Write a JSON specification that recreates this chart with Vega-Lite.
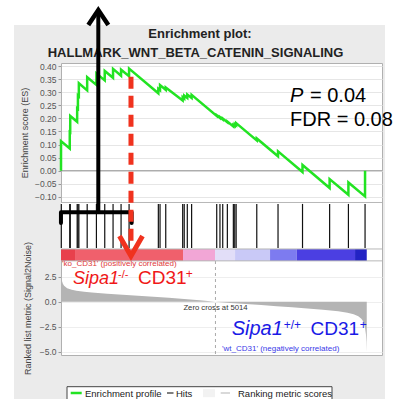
{
 "$schema": "https://vega.github.io/schema/vega-lite/v6.json",
 "width": 321, "height": 292,
 "autosize": {"type": "none"},
 "padding": {"left": 61, "top": 63, "right": 17, "bottom": 44},
 "background": "#ebebeb",
 "config": {"view": {"fill": "white", "stroke": "#b0b0b0"}, "font": "Liberation Sans"},
 "data": {"values": [{}]},
 "resolve": {"scale": {"y": "independent"}, "axis": {"y": "independent"}},
 "layer": [
  {"mark": {"type": "rect", "fill": "white"},
   "encoding": {"x": {"datum": -2300, "type": "quantitative", "scale": {"domain": [0, 10420], "nice": false, "zero": false}, "axis": null}, "x2": {"datum": 11300},
    "y": {"datum": 0.75, "type": "quantitative", "scale": {"domain": [-0.1196, 0.4115], "range": [139, 0], "nice": false, "zero": false}, "axis": null}, "y2": {"datum": 0.5567}}},
  {"mark": {"type": "rect", "fill": "white"},
   "encoding": {"x": {"datum": -2300, "type": "quantitative", "scale": {"domain": [0, 10420], "nice": false, "zero": false}, "axis": null}, "x2": {"datum": -1526},
    "y": {"datum": 0.75, "type": "quantitative", "scale": {"domain": [-0.1196, 0.4115], "range": [139, 0], "nice": false, "zero": false}, "axis": null}, "y2": {"datum": -0.95}}},
  {"mark": {"type": "rect", "fill": "white"},
   "encoding": {"x": {"datum": 10517, "type": "quantitative", "scale": {"domain": [0, 10420], "nice": false, "zero": false}, "axis": null}, "x2": {"datum": 11300},
    "y": {"datum": 0.75, "type": "quantitative", "scale": {"domain": [-0.1196, 0.4115], "range": [139, 0], "nice": false, "zero": false}, "axis": null}, "y2": {"datum": -0.95}}},
  {"mark": {"type": "rect", "fill": "white"},
   "encoding": {"x": {"datum": 0, "type": "quantitative", "scale": {"domain": [0, 10420], "nice": false, "zero": false}, "axis": null}, "x2": {"datum": 10420},
    "y": {"datum": -0.1234, "type": "quantitative", "scale": {"domain": [-0.1196, 0.4115], "range": [139, 0], "nice": false, "zero": false}, "axis": null}, "y2": {"datum": -0.345}}},
  {"mark": {"type": "rule", "color": "#9a9a9a", "strokeWidth": 1},
   "encoding": {"x": {"datum": 0, "type": "quantitative", "scale": {"domain": [0, 10420], "nice": false, "zero": false}, "axis": null}, "x2": {"datum": 10420},
    "y": {"datum": 0, "type": "quantitative", "scale": {"domain": [-0.1196, 0.4115], "range": [139, 0], "nice": false, "zero": false}, "axis": null}}},
  {"data": {"values": [
    {"r": 0, "es": 0}, {"r": 1, "es": 0.113}, {"r": 284, "es": 0.085}, {"r": 285, "es": 0.148}, {"r": 299, "es": 0.147}, {"r": 300, "es": 0.209},
    {"r": 524, "es": 0.187}, {"r": 525, "es": 0.238}, {"r": 549, "es": 0.236}, {"r": 550, "es": 0.287}, {"r": 579, "es": 0.284}, {"r": 580, "es": 0.334},
    {"r": 849, "es": 0.307}, {"r": 850, "es": 0.357}, {"r": 1149, "es": 0.328}, {"r": 1150, "es": 0.372}, {"r": 1419, "es": 0.345}, {"r": 1420, "es": 0.381},
    {"r": 1689, "es": 0.355}, {"r": 1690, "es": 0.389}, {"r": 1949, "es": 0.363}, {"r": 1950, "es": 0.386}, {"r": 2209, "es": 0.361}, {"r": 2210, "es": 0.39},
    {"r": 3159, "es": 0.296}, {"r": 3160, "es": 0.313}, {"r": 3214, "es": 0.308}, {"r": 3215, "es": 0.327}, {"r": 3399, "es": 0.309}, {"r": 3400, "es": 0.318},
    {"r": 3949, "es": 0.268}, {"r": 3950, "es": 0.281}, {"r": 3999, "es": 0.276}, {"r": 4000, "es": 0.287}, {"r": 4099, "es": 0.278}, {"r": 4100, "es": 0.291},
    {"r": 4239, "es": 0.278}, {"r": 4240, "es": 0.29}, {"r": 5054, "es": 0.209}, {"r": 5055, "es": 0.212}, {"r": 5159, "es": 0.202}, {"r": 5160, "es": 0.205},
    {"r": 5249, "es": 0.196}, {"r": 5250, "es": 0.199}, {"r": 5399, "es": 0.185}, {"r": 5400, "es": 0.188}, {"r": 5594, "es": 0.169}, {"r": 5595, "es": 0.175},
    {"r": 5639, "es": 0.171}, {"r": 5640, "es": 0.178}, {"r": 5684, "es": 0.174}, {"r": 5685, "es": 0.182}, {"r": 6354, "es": 0.116}, {"r": 6355, "es": 0.123},
    {"r": 7044, "es": 0.055}, {"r": 7045, "es": 0.074}, {"r": 7839, "es": -0.005}, {"r": 7840, "es": 0.022}, {"r": 8719, "es": -0.066}, {"r": 8720, "es": -0.032},
    {"r": 9329, "es": -0.092}, {"r": 9330, "es": -0.045}, {"r": 9869, "es": -0.098}, {"r": 9870, "es": 0.0}]},
   "mark": {"type": "line", "color": "#22e322", "strokeWidth": 2.5},
   "encoding": {"x": {"field": "r", "type": "quantitative", "scale": {"domain": [0, 10420], "nice": false, "zero": false}, "axis": null},
    "y": {"field": "es", "type": "quantitative", "scale": {"domain": [-0.1196, 0.4115], "range": [139, 0], "nice": false, "zero": false},
     "axis": {"orient": "left", "values": [-0.1, -0.05, 0, 0.05, 0.1, 0.15, 0.2, 0.25, 0.3, 0.35, 0.4], "format": ".2f", "grid": true, "gridColor": "#e6e6e6", "domain": false, "tickColor": "#999", "tickSize": 3, "labelFontSize": 8.5, "labelColor": "#555", "labelPadding": 2, "title": "Enrichment score (ES)", "titleFontSize": 9, "titleFontWeight": "normal", "titleColor": "#444", "titlePadding": 5}}}},
  {"data": {"values": [{"r": 10}, {"r": 285}, {"r": 300}, {"r": 525}, {"r": 550}, {"r": 580}, {"r": 850}, {"r": 1150}, {"r": 1420}, {"r": 1690}, {"r": 1950}, {"r": 2210}, {"r": 3160}, {"r": 3215}, {"r": 3400}, {"r": 3950}, {"r": 4000}, {"r": 4100}, {"r": 4240}, {"r": 5055}, {"r": 5160}, {"r": 5250}, {"r": 5400}, {"r": 5595}, {"r": 5640}, {"r": 5685}, {"r": 6355}, {"r": 7045}, {"r": 7840}, {"r": 8720}, {"r": 9330}, {"r": 9870}]},
   "mark": {"type": "rule", "color": "#111", "strokeWidth": 1.2},
   "encoding": {"x": {"field": "r", "type": "quantitative", "scale": {"domain": [0, 10420], "nice": false, "zero": false}, "axis": null},
    "y": {"datum": 0.02, "type": "quantitative", "scale": {"domain": [0, 1], "range": [186, 140], "nice": false, "zero": false}, "axis": null}, "y2": {"datum": 0.98}}},
  {"data": {"values": [{"s": 0, "e": 455, "g": "a"}, {"s": 455, "e": 3961, "g": "b"}, {"s": 3961, "e": 5000, "g": "c"}, {"s": 5000, "e": 5650, "g": "d"}, {"s": 5650, "e": 6786, "g": "e"}, {"s": 6786, "e": 7652, "g": "f"}, {"s": 7652, "e": 9545, "g": "g"}, {"s": 9545, "e": 9925, "g": "h"}]},
   "mark": {"type": "rect"},
   "encoding": {"x": {"field": "s", "type": "quantitative", "scale": {"domain": [0, 10420], "nice": false, "zero": false}, "axis": null}, "x2": {"field": "e"},
    "y": {"datum": 0, "type": "quantitative", "scale": {"domain": [0, 1], "range": [198, 186], "nice": false, "zero": false}, "axis": null}, "y2": {"datum": 1},
    "color": {"field": "g", "type": "nominal", "legend": null, "scale": {"domain": ["a", "b", "c", "d", "e", "f", "g", "h"], "range": ["#e8404c", "#f0606c", "#f2a6d6", "#e2def8", "#c9c9f7", "#7d7bf0", "#4b3fe2", "#2323c4"]}}}},
  {"data": {"values": [
    {"r": 0, "m": 3.3}, {"r": 10, "m": 2.6}, {"r": 30, "m": 2.1}, {"r": 60, "m": 1.8}, {"r": 100, "m": 1.6}, {"r": 200, "m": 1.35}, {"r": 350, "m": 1.2}, {"r": 500, "m": 1.1},
    {"r": 750, "m": 1.0}, {"r": 1000, "m": 0.92}, {"r": 1500, "m": 0.8}, {"r": 2000, "m": 0.7}, {"r": 2500, "m": 0.6}, {"r": 3000, "m": 0.5}, {"r": 3500, "m": 0.4},
    {"r": 4000, "m": 0.28}, {"r": 4500, "m": 0.15}, {"r": 5014, "m": 0}, {"r": 5500, "m": -0.12}, {"r": 6000, "m": -0.24}, {"r": 6500, "m": -0.34}, {"r": 7000, "m": -0.45},
    {"r": 7500, "m": -0.56}, {"r": 8000, "m": -0.68}, {"r": 8500, "m": -0.8}, {"r": 9000, "m": -0.95}, {"r": 9300, "m": -1.1}, {"r": 9500, "m": -1.25}, {"r": 9650, "m": -1.45},
    {"r": 9750, "m": -1.7}, {"r": 9820, "m": -2.0}, {"r": 9870, "m": -2.6}, {"r": 9900, "m": -3.3}, {"r": 9915, "m": -4.0}, {"r": 9925, "m": -5.0}]},
   "mark": {"type": "area", "color": "#b4b4b4"},
   "encoding": {"x": {"field": "r", "type": "quantitative", "scale": {"domain": [0, 10420], "nice": false, "zero": false},
     "axis": {"orient": "bottom", "values": [0, 1000, 2000, 3000, 4000, 5000, 6000, 7000, 8000, 9000, 10000], "format": ",", "grid": true, "gridColor": "#e6e6e6", "domain": false, "tickColor": "#999", "tickSize": 3, "labelFontSize": 8.5, "labelColor": "#555", "labelFlush": false, "title": "Rank in Ordered Dataset", "titleFontSize": 10, "titleFontWeight": "normal", "titleColor": "#333", "titlePadding": 2}},
    "y": {"field": "m", "type": "quantitative", "scale": {"domain": [-5.33, 4.07], "range": [292, 198], "nice": false, "zero": false},
     "axis": {"orient": "left", "values": [-5, -2.5, 0, 2.5], "format": ".1f", "grid": true, "gridColor": "#eeeeee", "domain": false, "tickColor": "#999", "tickSize": 3, "labelFontSize": 8.5, "labelColor": "#555", "labelPadding": 2, "title": "Ranked list metric (Signal2Noise)", "titleFontSize": 9, "titleFontWeight": "normal", "titleColor": "#444", "titlePadding": 7}},
    "y2": {"datum": 0}}},
  {"mark": {"type": "rule", "color": "#aaaaaa", "strokeWidth": 1, "strokeDash": [3, 3]},
   "encoding": {"x": {"datum": 5014, "type": "quantitative", "scale": {"domain": [0, 10420], "nice": false, "zero": false}, "axis": null},
    "y": {"datum": 4.07, "type": "quantitative", "scale": {"domain": [-5.33, 4.07], "range": [292, 198], "nice": false, "zero": false}, "axis": null}, "y2": {"datum": -5.33}}},
  {"mark": {"type": "rule", "color": "#b8b8b8", "strokeWidth": 1},
   "encoding": {"x": {"datum": 0, "type": "quantitative", "scale": {"domain": [0, 10420], "nice": false, "zero": false}, "axis": null}, "x2": {"datum": 10420},
    "y": {"datum": -0.1215, "type": "quantitative", "scale": {"domain": [-0.1196, 0.4115], "range": [139, 0], "nice": false, "zero": false}, "axis": null}}},
  {"mark": {"type": "rule", "color": "#b8b8b8", "strokeWidth": 1},
   "encoding": {"x": {"datum": 0, "type": "quantitative", "scale": {"domain": [0, 10420], "nice": false, "zero": false}, "axis": null}, "x2": {"datum": 10420},
    "y": {"datum": -0.2991, "type": "quantitative", "scale": {"domain": [-0.1196, 0.4115], "range": [139, 0], "nice": false, "zero": false}, "axis": null}}},
  {"mark": {"type": "rule", "color": "#b8b8b8", "strokeWidth": 1},
   "encoding": {"x": {"datum": 0, "type": "quantitative", "scale": {"domain": [0, 10420], "nice": false, "zero": false}, "axis": null}, "x2": {"datum": 10420},
    "y": {"datum": -0.3445, "type": "quantitative", "scale": {"domain": [-0.1196, 0.4115], "range": [139, 0], "nice": false, "zero": false}, "axis": null}}},
  {"mark": {"type": "text", "text": "Enrichment plot:", "font": "Liberation Sans", "fontSize": 13, "fontWeight": "bold", "color": "#222", "align": "center", "baseline": "alphabetic"},
   "encoding": {"x": {"datum": 4512, "type": "quantitative", "scale": {"domain": [0, 10420], "nice": false, "zero": false}, "axis": null},
    "y": {"datum": 0.507, "type": "quantitative", "scale": {"domain": [-0.1196, 0.4115], "range": [139, 0], "nice": false, "zero": false}, "axis": null}}},
  {"mark": {"type": "text", "text": "HALLMARK_WNT_BETA_CATENIN_SIGNALING", "font": "Liberation Sans", "fontSize": 13, "fontWeight": "bold", "color": "#222", "align": "center", "baseline": "alphabetic"},
   "encoding": {"x": {"datum": 4366, "type": "quantitative", "scale": {"domain": [0, 10420], "nice": false, "zero": false}, "axis": null},
    "y": {"datum": 0.4332, "type": "quantitative", "scale": {"domain": [-0.1196, 0.4115], "range": [139, 0], "nice": false, "zero": false}, "axis": null}}},
  {"mark": {"type": "text", "text": "P", "fontSize": 20, "fontStyle": "italic", "color": "#000", "align": "left", "baseline": "alphabetic"},
   "encoding": {"x": {"datum": 7434, "type": "quantitative", "scale": {"domain": [0, 10420], "nice": false, "zero": false}, "axis": null},
    "y": {"datum": 0.2636, "type": "quantitative", "scale": {"domain": [-0.1196, 0.4115], "range": [139, 0], "nice": false, "zero": false}, "axis": null}}},
  {"mark": {"type": "text", "text": "= 0.04", "fontSize": 20, "color": "#000", "align": "left", "baseline": "alphabetic"},
   "encoding": {"x": {"datum": 8083, "type": "quantitative", "scale": {"domain": [0, 10420], "nice": false, "zero": false}, "axis": null},
    "y": {"datum": 0.2636, "type": "quantitative", "scale": {"domain": [-0.1196, 0.4115], "range": [139, 0], "nice": false, "zero": false}, "axis": null}}},
  {"mark": {"type": "text", "text": "FDR = 0.08", "fontSize": 20, "color": "#000", "align": "left", "baseline": "alphabetic"},
   "encoding": {"x": {"datum": 7434, "type": "quantitative", "scale": {"domain": [0, 10420], "nice": false, "zero": false}, "axis": null},
    "y": {"datum": 0.1708, "type": "quantitative", "scale": {"domain": [-0.1196, 0.4115], "range": [139, 0], "nice": false, "zero": false}, "axis": null}}},
  {"mark": {"type": "text", "text": "'ko_CD31' (positively correlated)", "fontSize": 8, "color": "#e03a3a", "align": "left", "baseline": "alphabetic"},
   "encoding": {"x": {"datum": 32, "type": "quantitative", "scale": {"domain": [0, 10420], "nice": false, "zero": false}, "axis": null},
    "y": {"datum": 3.55, "type": "quantitative", "scale": {"domain": [-5.33, 4.07], "range": [292, 198], "nice": false, "zero": false}, "axis": null}}},
  {"mark": {"type": "text", "text": "Zero cross at 5014", "fontSize": 7.7, "color": "#333", "align": "center", "baseline": "alphabetic"},
   "encoding": {"x": {"datum": 5014, "type": "quantitative", "scale": {"domain": [0, 10420], "nice": false, "zero": false}, "axis": null},
    "y": {"datum": -0.83, "type": "quantitative", "scale": {"domain": [-5.33, 4.07], "range": [292, 198], "nice": false, "zero": false}, "axis": null}}},
  {"mark": {"type": "text", "text": "'wt_CD31' (negatively correlated)", "fontSize": 8, "color": "#3a3ae8", "align": "left", "baseline": "alphabetic"},
   "encoding": {"x": {"datum": 5226, "type": "quantitative", "scale": {"domain": [0, 10420], "nice": false, "zero": false}, "axis": null},
    "y": {"datum": -4.93, "type": "quantitative", "scale": {"domain": [-5.33, 4.07], "range": [292, 198], "nice": false, "zero": false}, "axis": null}}},
  {"mark": {"type": "text", "text": "Sipa1", "fontSize": 18, "fontStyle": "italic", "color": "#f01818", "align": "left", "baseline": "alphabetic"},
   "encoding": {"x": {"datum": 390, "type": "quantitative", "scale": {"domain": [0, 10420], "nice": false, "zero": false}, "axis": null},
    "y": {"datum": 1.8, "type": "quantitative", "scale": {"domain": [-5.33, 4.07], "range": [292, 198], "nice": false, "zero": false}, "axis": null}}},
  {"mark": {"type": "text", "text": "-/-", "fontSize": 11, "color": "#f01818", "align": "left", "baseline": "alphabetic"},
   "encoding": {"x": {"datum": 1850, "type": "quantitative", "scale": {"domain": [0, 10420], "nice": false, "zero": false}, "axis": null},
    "y": {"datum": 2.38, "type": "quantitative", "scale": {"domain": [-5.33, 4.07], "range": [292, 198], "nice": false, "zero": false}, "axis": null}}},
  {"mark": {"type": "text", "text": "CD31", "fontSize": 19, "color": "#f01818", "align": "left", "baseline": "alphabetic"},
   "encoding": {"x": {"datum": 2500, "type": "quantitative", "scale": {"domain": [0, 10420], "nice": false, "zero": false}, "axis": null},
    "y": {"datum": 1.8, "type": "quantitative", "scale": {"domain": [-5.33, 4.07], "range": [292, 198], "nice": false, "zero": false}, "axis": null}}},
  {"mark": {"type": "text", "text": "+", "fontSize": 12, "color": "#f01818", "align": "left", "baseline": "alphabetic"},
   "encoding": {"x": {"datum": 4050, "type": "quantitative", "scale": {"domain": [0, 10420], "nice": false, "zero": false}, "axis": null},
    "y": {"datum": 2.38, "type": "quantitative", "scale": {"domain": [-5.33, 4.07], "range": [292, 198], "nice": false, "zero": false}, "axis": null}}},
  {"mark": {"type": "text", "text": "Sipa1", "fontSize": 20, "fontStyle": "italic", "color": "#1a1ae6", "align": "left", "baseline": "alphabetic"},
   "encoding": {"x": {"datum": 5541, "type": "quantitative", "scale": {"domain": [0, 10420], "nice": false, "zero": false}, "axis": null},
    "y": {"datum": -3.33, "type": "quantitative", "scale": {"domain": [-5.33, 4.07], "range": [292, 198], "nice": false, "zero": false}, "axis": null}}},
  {"mark": {"type": "text", "text": "+/+", "fontSize": 12, "color": "#1a1ae6", "align": "left", "baseline": "alphabetic"},
   "encoding": {"x": {"datum": 7230, "type": "quantitative", "scale": {"domain": [0, 10420], "nice": false, "zero": false}, "axis": null},
    "y": {"datum": -2.7, "type": "quantitative", "scale": {"domain": [-5.33, 4.07], "range": [292, 198], "nice": false, "zero": false}, "axis": null}}},
  {"mark": {"type": "text", "text": "CD31", "fontSize": 19, "color": "#1a1ae6", "align": "left", "baseline": "alphabetic"},
   "encoding": {"x": {"datum": 8100, "type": "quantitative", "scale": {"domain": [0, 10420], "nice": false, "zero": false}, "axis": null},
    "y": {"datum": -3.33, "type": "quantitative", "scale": {"domain": [-5.33, 4.07], "range": [292, 198], "nice": false, "zero": false}, "axis": null}}},
  {"mark": {"type": "text", "text": "+", "fontSize": 12, "color": "#1a1ae6", "align": "left", "baseline": "alphabetic"},
   "encoding": {"x": {"datum": 9700, "type": "quantitative", "scale": {"domain": [0, 10420], "nice": false, "zero": false}, "axis": null},
    "y": {"datum": -2.7, "type": "quantitative", "scale": {"domain": [-5.33, 4.07], "range": [292, 198], "nice": false, "zero": false}, "axis": null}}},
  {"mark": {"type": "rule", "color": "#000", "strokeWidth": 4},
   "encoding": {"x": {"datum": 1211, "type": "quantitative", "scale": {"domain": [0, 10420], "nice": false, "zero": false}, "axis": null},
    "y": {"datum": 0.6063, "type": "quantitative", "scale": {"domain": [-0.1196, 0.4115], "range": [139, 0], "nice": false, "zero": false}, "axis": null}, "y2": {"datum": -0.159}}},
  {"mark": {"type": "point", "shape": "M -1 0.75 L 0 -0.75 L 1 0.75", "filled": false, "stroke": "#000", "strokeWidth": 4.5, "size": 400, "opacity": 1, "strokeJoin": "miter"},
   "encoding": {"x": {"datum": 1211, "type": "quantitative", "scale": {"domain": [0, 10420], "nice": false, "zero": false}, "axis": null},
    "y": {"datum": 0.5853, "type": "quantitative", "scale": {"domain": [-0.1196, 0.4115], "range": [139, 0], "nice": false, "zero": false}, "axis": null}}},
  {"mark": {"type": "point", "shape": "M -1 0.3 L -1 0 L 1 0 L 1 0.3", "filled": false, "stroke": "#000", "strokeWidth": 4, "size": 4998, "opacity": 1, "strokeJoin": "round", "strokeCap": "round"},
   "encoding": {"x": {"datum": 1146, "type": "quantitative", "scale": {"domain": [0, 10420], "nice": false, "zero": false}, "axis": null},
    "y": {"datum": -0.1589, "type": "quantitative", "scale": {"domain": [-0.1196, 0.4115], "range": [139, 0], "nice": false, "zero": false}, "axis": null}}},
  {"mark": {"type": "rule", "color": "#f0321e", "strokeWidth": 5, "strokeDash": [12, 7]},
   "encoding": {"x": {"datum": 2272, "type": "quantitative", "scale": {"domain": [0, 10420], "nice": false, "zero": false}, "axis": null},
    "y": {"datum": 0.3591, "type": "quantitative", "scale": {"domain": [-0.1196, 0.4115], "range": [139, 0], "nice": false, "zero": false}, "axis": null}, "y2": {"datum": -0.2875}}},
  {"mark": {"type": "point", "shape": "M -1 -0.87 L 0 0.87 L 1 -0.87", "filled": false, "stroke": "#f0321e", "strokeWidth": 5, "size": 529, "opacity": 1, "strokeJoin": "miter"},
   "encoding": {"x": {"datum": 2272, "type": "quantitative", "scale": {"domain": [0, 10420], "nice": false, "zero": false}, "axis": null},
    "y": {"datum": -0.2875, "type": "quantitative", "scale": {"domain": [-0.1196, 0.4115], "range": [139, 0], "nice": false, "zero": false}, "axis": null}}},
  {"mark": {"type": "rect", "fill": "white", "stroke": "#444", "strokeWidth": 1},
   "encoding": {"x": {"datum": 195, "type": "quantitative", "scale": {"domain": [0, 10420], "nice": false, "zero": false}, "axis": null}, "x2": {"datum": 8797},
    "y": {"datum": -8.5, "type": "quantitative", "scale": {"domain": [-5.33, 4.07], "range": [292, 198], "nice": false, "zero": false}, "axis": null}, "y2": {"datum": -10.4}}},
  {"mark": {"type": "rule", "color": "#22e322", "strokeWidth": 2.5},
   "encoding": {"x": {"datum": 315, "type": "quantitative", "scale": {"domain": [0, 10420], "nice": false, "zero": false}, "axis": null}, "x2": {"datum": 672},
    "y": {"datum": -9.13, "type": "quantitative", "scale": {"domain": [-5.33, 4.07], "range": [292, 198], "nice": false, "zero": false}, "axis": null}}},
  {"mark": {"type": "rule", "color": "#555", "strokeWidth": 1.5},
   "encoding": {"x": {"datum": 3441, "type": "quantitative", "scale": {"domain": [0, 10420], "nice": false, "zero": false}, "axis": null}, "x2": {"datum": 3652},
    "y": {"datum": -9.13, "type": "quantitative", "scale": {"domain": [-5.33, 4.07], "range": [292, 198], "nice": false, "zero": false}, "axis": null}}},
  {"mark": {"type": "rect", "fill": "#f2f2f2"},
   "encoding": {"x": {"datum": 4609, "type": "quantitative", "scale": {"domain": [0, 10420], "nice": false, "zero": false}, "axis": null}, "x2": {"datum": 4999},
    "y": {"datum": -8.75, "type": "quantitative", "scale": {"domain": [-5.33, 4.07], "range": [292, 198], "nice": false, "zero": false}, "axis": null}, "y2": {"datum": -9.55}}},
  {"mark": {"type": "rule", "color": "#cccccc", "strokeWidth": 1.5},
   "encoding": {"x": {"datum": 5184, "type": "quantitative", "scale": {"domain": [0, 10420], "nice": false, "zero": false}, "axis": null}, "x2": {"datum": 5486},
    "y": {"datum": -9.13, "type": "quantitative", "scale": {"domain": [-5.33, 4.07], "range": [292, 198], "nice": false, "zero": false}, "axis": null}}},
  {"mark": {"type": "text", "text": "Enrichment profile", "fontSize": 9.5, "color": "#222", "align": "left", "baseline": "alphabetic"},
   "encoding": {"x": {"datum": 779, "type": "quantitative", "scale": {"domain": [0, 10420], "nice": false, "zero": false}, "axis": null},
    "y": {"datum": -9.48, "type": "quantitative", "scale": {"domain": [-5.33, 4.07], "range": [292, 198], "nice": false, "zero": false}, "axis": null}}},
  {"mark": {"type": "text", "text": "Hits", "fontSize": 9.5, "color": "#222", "align": "left", "baseline": "alphabetic"},
   "encoding": {"x": {"datum": 3733, "type": "quantitative", "scale": {"domain": [0, 10420], "nice": false, "zero": false}, "axis": null},
    "y": {"datum": -9.48, "type": "quantitative", "scale": {"domain": [-5.33, 4.07], "range": [292, 198], "nice": false, "zero": false}, "axis": null}}},
  {"mark": {"type": "text", "text": "Ranking metric scores", "fontSize": 9.5, "color": "#222", "align": "left", "baseline": "alphabetic"},
   "encoding": {"x": {"datum": 5746, "type": "quantitative", "scale": {"domain": [0, 10420], "nice": false, "zero": false}, "axis": null},
    "y": {"datum": -9.48, "type": "quantitative", "scale": {"domain": [-5.33, 4.07], "range": [292, 198], "nice": false, "zero": false}, "axis": null}}}
 ]
}
